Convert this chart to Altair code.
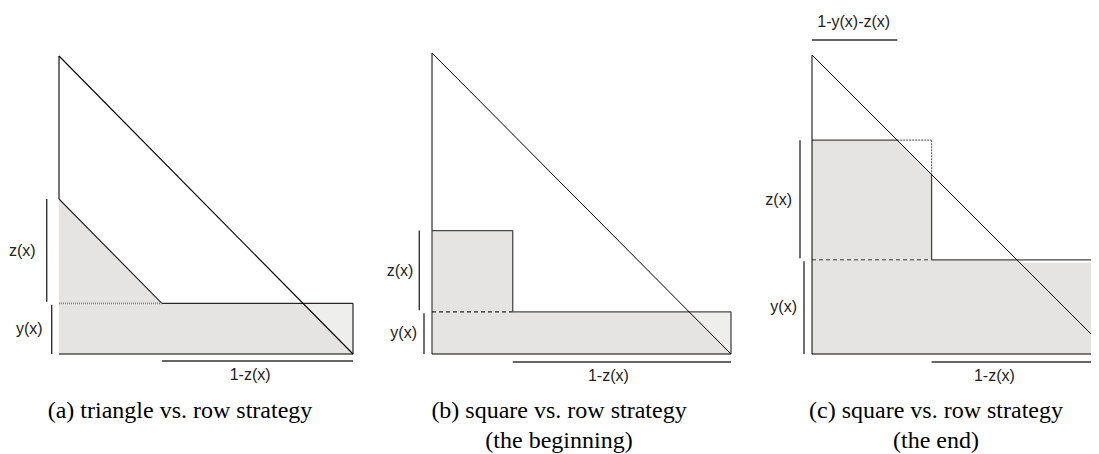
import altair as alt
import pandas as pd

# ---- data ----
panel_ids = ["a", "b", "c"]
row_heights = [0.17, 0.14, 0.315]      # y(x)
square_sides = [0.35, 0.27, 0.40]      # z(x)
caption_line1 = ["(a) triangle vs. row strategy",
                 "(b) square vs. row strategy",
                 "(c) square vs. row strategy"]
caption_line2 = ["", "(the beginning)", "(the end)"]
label_z = "z(x)"
label_y = "y(x)"
label_1z = "1-z(x)"
label_1yz = "1-y(x)-z(x)"

# ---- layout (pixels) ----
H = 446
LAYOUT = {
    "a": dict(width=362, ox=51, oy=346, ux=294, uy=298, bz=12.3, by=7.3, b1=7,
              dxz=-11, dxy=-9, lab1z=0.65, cap=172),
    "b": dict(width=370, ox=62, oy=346, ux=299, uy=301, bz=12.7, by=8.0, b1=8,
              dxz=-6, dxy=-7, lab1z=0.59, cap=189),
    "c": dict(width=351, ox=72, oy=346, ux=299, uy=299, bz=12.0, by=8.0, b1=8,
              dxz=-8, dxy=-7, lab1z=0.61, cap=196),
}

FILL = "#e5e4e2"
FILL_LIGHT = "#eeeeed"
SANS = "Liberation Sans"
SERIF = "Liberation Serif"


def seg(x, y, x2, y2):
    return dict(x=x, y=y, x2=x2, y2=y2)


def panel(i):
    pid = panel_ids[i]
    Y = row_heights[i]
    Z = square_sides[i]
    L = LAYOUT[pid]
    ux, uy = L["ux"], L["uy"]
    W = L["width"]
    xs = alt.Scale(domain=[-L["ox"] / ux, (W - L["ox"]) / ux], nice=False, zero=False)
    ys = alt.Scale(domain=[-(H - L["oy"]) / uy, L["oy"] / uy], nice=False, zero=False)

    def ex(f="x"):
        return alt.X(f"{f}:Q", scale=xs, axis=None)

    def ey(f="y"):
        return alt.Y(f"{f}:Q", scale=ys, axis=None)

    def rules(segs, color, width, dash=None):
        kw = dict(color=color, strokeWidth=width, clip=True)
        if dash:
            kw["strokeDash"] = dash
        return alt.Chart(pd.DataFrame(segs)).mark_rule(**kw).encode(
            x=ex("x"), y=ey("y"), x2="x2:Q", y2="y2:Q")

    def label(rows, **kw):
        return alt.Chart(pd.DataFrame(rows)).mark_text(
            baseline="middle", font=SANS, fontSize=16, color="#222222", **kw
        ).encode(x=ex("x"), y=ey("y"), text="t:N")

    layers = []
    # ---- fills ----
    fills = []
    light = []
    if pid == "a":
        fills += [dict(g=1, x=0, y=Y + Z, y2=0), dict(g=1, x=Z, y=Y, y2=0), dict(g=1, x=1, y=Y, y2=0)]
        light += [dict(g=2, x=1 - Y, y=Y, y2=Y), dict(g=2, x=1, y=Y, y2=0)]
    elif pid == "b":
        fills += [dict(g=1, x=0, y=Y + Z, y2=Y), dict(g=1, x=Z, y=Y + Z, y2=Y)]
        fills += [dict(g=2, x=0, y=Y, y2=0), dict(g=2, x=1, y=Y, y2=0)]
        light += [dict(g=3, x=1 - Y, y=Y, y2=Y), dict(g=3, x=1, y=Y, y2=0)]
    else:
        fills += [dict(g=1, x=0, y=Y + Z, y2=Y), dict(g=1, x=1 - Y - Z, y=Y + Z, y2=Y),
                  dict(g=1, x=Z, y=1 - Z, y2=Y)]
        fills += [dict(g=2, x=0, y=Y, y2=0), dict(g=2, x=1, y=Y, y2=0)]
    layers.append(alt.Chart(pd.DataFrame(fills)).mark_area(color=FILL, clip=True).encode(
        x=ex("x"), y=ey("y"), y2="y2:Q", detail="g:N"))
    if light:
        layers.append(alt.Chart(pd.DataFrame(light)).mark_area(color=FILL_LIGHT, clip=True).encode(
            x=ex("x"), y=ey("y"), y2="y2:Q", detail="g:N"))
    if pid == "c":
        gap = 3.0 / uy
        strip = [dict(g=1, x=1 - Y, y=Y, y2=Y), dict(g=1, x=1 - Y + gap, y=Y, y2=Y - gap),
                 dict(g=1, x=1, y=Y, y2=Y - gap)]
        layers.append(alt.Chart(pd.DataFrame(strip)).mark_area(color="white", clip=True).encode(
            x=ex("x"), y=ey("y"), y2="y2:Q", detail="g:N"))

    # ---- lines ----
    if pid == "a":
        black = [seg(0, 1, 0, Y + Z), seg(0, 0, 1, 0), seg(0, 1, 1, 0)]
        dark = [seg(0, Y + Z, Z, Y), seg(Z, Y, 1, Y), seg(1, Y, 1, 0)]
        layers.append(rules(dark, "#2a2626", 1.2))
        layers.append(rules([seg(0, Y, Z, Y)], "#8a7f78", 1.6, [1, 1]))
        layers.append(rules(black, "#000000", 1.1))
    elif pid == "b":
        black = [seg(0, 1, 0, Y + Z), seg(0, 0, 1, 0), seg(0, 1, 1, 0)]
        dark = [seg(0, 0, 0, Y + Z), seg(0, Y + Z, Z, Y + Z), seg(Z, Y + Z, Z, Y),
                seg(Z, Y, 1, Y), seg(1, Y, 1, 0)]
        layers.append(rules(dark, "#4a4a4a", 1.3))
        layers.append(rules([seg(0, Y, Z, Y)], "#222222", 1.2, [4, 3]))
        layers.append(rules(black, "#000000", 1.0))
    else:
        black = [seg(0, 1, 0, 0), seg(0, 0, 1, 0), seg(0, 1, 1, 0)]
        dark = [seg(0, Y + Z, 1 - Y - Z, Y + Z), seg(Z, 1 - Z, Z, Y), seg(Z, Y, 1, Y)]
        layers.append(rules(dark, "#444444", 1.3))
        layers.append(rules([seg(1 - Y - Z, Y + Z, Z, Y + Z), seg(Z, Y + Z, Z, 1 - Z)],
                            "#666666", 1.2, [2, 1]))
        layers.append(rules([seg(0, Y, Z, Y)], "#333333", 1.0, [4, 3]))
        layers.append(rules(black, "#000000", 1.0))

    # ---- brackets ----
    bz = -L["bz"] / ux
    by = -L["by"] / ux
    b1 = -L["b1"] / uy
    g = 1.5 / uy
    br = [seg(bz, Y + g, bz, Y + Z), seg(by, 0, by, Y - g), seg(Z, b1, 1, b1)]
    bt = 314.0 / uy
    if pid == "c":
        br.append(seg(0, bt, 1 - Y - Z, bt))
    layers.append(rules(br, "#333333", 1.4))
    layers.append(label([dict(x=bz, y=Y + Z / 2, t=label_z)], align="right", dx=L["dxz"]))
    layers.append(label([dict(x=by, y=Y / 2, t=label_y)], align="right", dx=L["dxy"]))
    layers.append(label([dict(x=L["lab1z"], y=b1, t=label_1z)], align="center", dy=14))
    if pid == "c":
        layers.append(label([dict(x=(1 - Y - Z) / 2 - 0.003, y=bt, t=label_1yz)],
                            align="center", dy=-18))

    # ---- caption ----
    caps = [dict(t=caption_line1[i], line=0)]
    if caption_line2[i]:
        caps.append(dict(t=caption_line2[i], line=1))
    for r in caps:
        layers.append(alt.Chart(pd.DataFrame([r])).mark_text(
            align="center", baseline="middle", font=SERIF, fontSize=24, color="#000000"
        ).encode(x=alt.value(L["cap"]), y=alt.value(403 + 30 * int(r["line"])), text="t:N"))

    return alt.layer(*layers).properties(width=W, height=H)


chart = alt.hconcat(panel(0), panel(1), panel(2), spacing=0, bounds="flush").properties(
    padding=0, background="white"
).configure_view(stroke=None)

chart.save("out.html", embed_options={"renderer": "svg", "actions": False})
